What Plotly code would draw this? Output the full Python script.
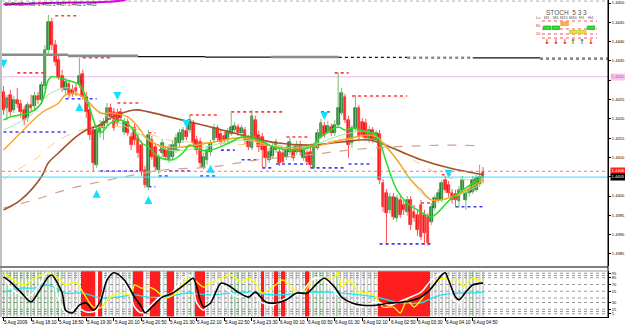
import plotly.graph_objects as go

W, H = 625, 327

# ---------------- price data (EURUSD, M5) ----------------
opens = [
    1.44270, 1.44228, 1.44262, 1.44223, 1.44249, 1.44239, 1.44223, 1.44202, 1.44236, 1.44233,
    1.44259, 1.44249, 1.44285, 1.44378, 1.44451, 1.44391, 1.44353, 1.44311, 1.44275, 1.44290,
    1.44275, 1.44280, 1.44290, 1.44316, 1.44257, 1.44223, 1.44171, 1.44081, 1.44166, 1.44176,
    1.44189, 1.44228, 1.44218, 1.44215, 1.44218, 1.44166, 1.44192, 1.44153, 1.44176, 1.44151,
    1.44132, 1.44068, 1.44024, 1.44145, 1.44127, 1.44068, 1.44112, 1.44119, 1.44094, 1.44101,
    1.44119, 1.44138, 1.44145, 1.44169, 1.44171, 1.44189, 1.44145, 1.44140, 1.44075, 1.44094,
    1.44114, 1.44145, 1.44176, 1.44161, 1.44156, 1.44145, 1.44161, 1.44171, 1.44179, 1.44164,
    1.44171, 1.44151, 1.44125, 1.44197, 1.44158, 1.44153, 1.44130, 1.44094, 1.44104, 1.44119,
    1.44114, 1.44112, 1.44101, 1.44114, 1.44119, 1.44114, 1.44132, 1.44099, 1.44112, 1.44114,
    1.44073, 1.44125, 1.44153, 1.44182, 1.44166, 1.44179, 1.44164, 1.44184, 1.44215, 1.44257,
    1.44197, 1.44138, 1.44176, 1.44228, 1.44192, 1.44189, 1.44145, 1.44171, 1.44145, 1.44161,
    1.44034, 1.44008, 1.43964, 1.43998, 1.43943, 1.43990, 1.43977, 1.43959, 1.43990, 1.43959,
    1.43951, 1.43977, 1.43951, 1.43946, 1.43933, 1.43969, 1.43990, 1.43990, 1.44042, 1.44029,
    1.44008, 1.44006, 1.43987, 1.44016, 1.43990, 1.44008, 1.44011, 1.44016, 1.44031, 1.44063,
]
closes = [
    1.44223, 1.44254, 1.44218, 1.44249, 1.44239, 1.44218, 1.44197, 1.44236, 1.44228, 1.44259,
    1.44249, 1.44288, 1.44378, 1.44451, 1.44391, 1.44347, 1.44309, 1.44280, 1.44296, 1.44262,
    1.44267, 1.44270, 1.44311, 1.44257, 1.44218, 1.44158, 1.44086, 1.44171, 1.44184, 1.44192,
    1.44228, 1.44205, 1.44176, 1.44189, 1.44202, 1.44192, 1.44164, 1.44132, 1.44145, 1.44112,
    1.44063, 1.44029, 1.44158, 1.44101, 1.44075, 1.44101, 1.44138, 1.44101, 1.44125, 1.44132,
    1.44151, 1.44164, 1.44171, 1.44153, 1.44197, 1.44138, 1.44119, 1.44086, 1.44101, 1.44119,
    1.44138, 1.44176, 1.44151, 1.44140, 1.44145, 1.44169, 1.44179, 1.44182, 1.44164, 1.44176,
    1.44145, 1.44127, 1.44208, 1.44153, 1.44127, 1.44119, 1.44099, 1.44114, 1.44127, 1.44140,
    1.44086, 1.44088, 1.44119, 1.44140, 1.44099, 1.44132, 1.44114, 1.44119, 1.44088, 1.44081,
    1.44127, 1.44164, 1.44189, 1.44158, 1.44182, 1.44164, 1.44184, 1.44228, 1.44267, 1.44197,
    1.44132, 1.44176, 1.44228, 1.44153, 1.44158, 1.44151, 1.44171, 1.44145, 1.44164, 1.44042,
    1.43972, 1.43956, 1.43998, 1.43946, 1.43995, 1.43951, 1.43964, 1.43990, 1.43925, 1.43943,
    1.43912, 1.43894, 1.43905, 1.43879, 1.43972, 1.43995, 1.44008, 1.44034, 1.44016, 1.44008,
    1.43990, 1.43990, 1.44016, 1.44042, 1.44008, 1.44016, 1.44042, 1.44047, 1.44050, 1.44050,
]
highs = [
    1.44285, 1.44262, 1.44275, 1.44259, 1.44280, 1.44249, 1.44233, 1.44244, 1.44262, 1.44270,
    1.44270, 1.44296, 1.44391, 1.44469, 1.44461, 1.44404, 1.44363, 1.44327, 1.44306, 1.44301,
    1.44288, 1.44290, 1.44358, 1.44327, 1.44270, 1.44233, 1.44182, 1.44184, 1.44197, 1.44202,
    1.44241, 1.44239, 1.44228, 1.44226, 1.44228, 1.44202, 1.44200, 1.44164, 1.44187, 1.44161,
    1.44143, 1.44078, 1.44171, 1.44156, 1.44138, 1.44109, 1.44148, 1.44130, 1.44135, 1.44143,
    1.44161, 1.44174, 1.44179, 1.44179, 1.44210, 1.44197, 1.44156, 1.44151, 1.44112, 1.44130,
    1.44145, 1.44187, 1.44184, 1.44171, 1.44166, 1.44176, 1.44218, 1.44192, 1.44187, 1.44184,
    1.44179, 1.44158, 1.44223, 1.44208, 1.44169, 1.44164, 1.44140, 1.44125, 1.44138, 1.44148,
    1.44125, 1.44119, 1.44130, 1.44151, 1.44130, 1.44143, 1.44143, 1.44130, 1.44119, 1.44125,
    1.44138, 1.44174, 1.44200, 1.44192, 1.44195, 1.44187, 1.44197, 1.44319, 1.44280, 1.44265,
    1.44208, 1.44184, 1.44262, 1.44236, 1.44202, 1.44200, 1.44182, 1.44179, 1.44171, 1.44171,
    1.44044, 1.44018, 1.44008, 1.44008, 1.44003, 1.44000, 1.43990, 1.44000, 1.44000, 1.43977,
    1.43964, 1.43990, 1.43964, 1.43956, 1.43982, 1.44003, 1.44018, 1.44042, 1.44052, 1.44039,
    1.44018, 1.44016, 1.44026, 1.44052, 1.44016, 1.44026, 1.44052, 1.44055, 1.44081, 1.44075,
]
lows = [
    1.44210, 1.44197, 1.44208, 1.44215, 1.44228, 1.44202, 1.44184, 1.44192, 1.44218, 1.44223,
    1.44239, 1.44239, 1.44275, 1.44366, 1.44378, 1.44337, 1.44301, 1.44270, 1.44262, 1.44254,
    1.44257, 1.44259, 1.44280, 1.44249, 1.44202, 1.44145, 1.44063, 1.44073, 1.44151, 1.44145,
    1.44182, 1.44197, 1.44169, 1.44182, 1.44195, 1.44158, 1.44156, 1.44119, 1.44132, 1.44099,
    1.44052, 1.44021, 1.44016, 1.44094, 1.44063, 1.44057, 1.44101, 1.44094, 1.44086, 1.44094,
    1.44112, 1.44127, 1.44138, 1.44145, 1.44164, 1.44127, 1.44107, 1.44073, 1.44068, 1.44081,
    1.44104, 1.44138, 1.44143, 1.44132, 1.44135, 1.44138, 1.44156, 1.44164, 1.44156, 1.44156,
    1.44132, 1.44119, 1.44119, 1.44145, 1.44114, 1.44075, 1.44075, 1.44086, 1.44096, 1.44112,
    1.44078, 1.44081, 1.44094, 1.44107, 1.44091, 1.44107, 1.44104, 1.44091, 1.44081, 1.44073,
    1.44068, 1.44119, 1.44148, 1.44151, 1.44161, 1.44156, 1.44156, 1.44176, 1.44210, 1.44189,
    1.44099, 1.44125, 1.44169, 1.44145, 1.44151, 1.44143, 1.44138, 1.44138, 1.44138, 1.44031,
    1.43959, 1.43879, 1.43954, 1.43938, 1.43933, 1.43943, 1.43951, 1.43949, 1.43912, 1.43933,
    1.43897, 1.43886, 1.43873, 1.43871, 1.43925, 1.43962, 1.43982, 1.43985, 1.44008, 1.43998,
    1.43980, 1.43972, 1.43969, 1.44008, 1.43964, 1.43998, 1.44006, 1.44011, 1.44024, 1.44034,
]
n = len(closes)
bars = list(range(n))

time_label_bars = [0, 8, 16, 24, 32, 40, 48, 56, 64, 72, 80, 88, 96, 104, 112, 120, 128, 136]
time_labels = ["5 Aug 2009", "5 Aug 18:10", "5 Aug 18:50", "5 Aug 19:30", "5 Aug 20:10",
               "5 Aug 20:50", "5 Aug 21:30", "5 Aug 22:10", "5 Aug 22:50", "5 Aug 23:30",
               "6 Aug 00:10", "6 Aug 00:50", "6 Aug 01:30", "6 Aug 02:10", "6 Aug 02:50",
               "6 Aug 03:30", "6 Aug 04:10", "6 Aug 04:50"]
price_ticks = [1.4450, 1.4445, 1.4440, 1.4435, 1.4430, 1.4425, 1.4420,
               1.4415, 1.4410, 1.4405, 1.4400, 1.4395, 1.4390, 1.4385]

# moving averages (sampled along the bars)
ma_fast_bars = [0, 2, 8, 11, 13, 14, 18, 22, 24, 28, 31, 34, 37, 40, 42, 45, 49, 52, 54, 57,
                60, 66, 69, 74, 79, 84, 89, 92, 97, 99, 101, 105, 108, 111, 114, 117, 121, 124, 130, 139]
ma_fast = [1.44197, 1.44205, 1.44218, 1.44241, 1.44301, 1.44309, 1.44301, 1.44288, 1.44254, 1.44164,
           1.44189, 1.44197, 1.44179, 1.44138, 1.44127, 1.44101, 1.44094, 1.44112, 1.44132, 1.44119,
           1.44119, 1.44140, 1.44153, 1.44145, 1.44125, 1.44119, 1.44127, 1.44153, 1.44179, 1.44171,
           1.44176, 1.44166, 1.44158, 1.44086, 1.44016, 1.43982, 1.43959, 1.43946, 1.43995, 1.44050]
ma_lg_bars = [0, 8, 13, 19, 25, 31, 40, 48, 57, 69, 80, 89, 98, 106, 112, 118, 124, 132, 139]
ma_lg = [1.44171, 1.44210, 1.44262, 1.44280, 1.44236, 1.44202, 1.44158, 1.44119, 1.44125, 1.44145,
         1.44127, 1.44130, 1.44158, 1.44166, 1.44119, 1.44042, 1.43990, 1.44003, 1.44034]
ma_orange_bars = [0, 5, 11, 16, 18, 22, 25, 28, 31, 36, 39, 42, 47, 52, 60, 69, 79, 89, 98, 106,
                  108, 114, 118, 121, 124, 130, 139]
ma_orange = [1.44119, 1.44164, 1.44215, 1.44241, 1.44262, 1.44262, 1.44241, 1.44215, 1.44215, 1.44205,
             1.44179, 1.44145, 1.44127, 1.44127, 1.44138, 1.44151, 1.44127, 1.44127, 1.44145, 1.44158,
             1.44153, 1.44094, 1.44042, 1.44016, 1.43990, 1.43998, 1.44042]
ma_lo_bars = [0, 4, 9, 16, 25, 37, 48, 60, 74, 86, 98, 108, 115, 121, 129, 139]
ma_lo = [1.44042, 1.44068, 1.44094, 1.44145, 1.44176, 1.44176, 1.44145, 1.44138, 1.44132, 1.44132,
         1.44145, 1.44145, 1.44114, 1.44081, 1.44047, 1.44042]
ma_brown_bars = [0, 5, 11, 13, 16, 21, 24, 28, 31, 38, 42, 48, 54, 60, 69, 79, 89, 98, 106, 112,
                 121, 129, 139]
ma_brown = [1.43964, 1.43990, 1.44050, 1.44086, 1.44112, 1.44153, 1.44171, 1.44184, 1.44202, 1.44223,
            1.44218, 1.44205, 1.44192, 1.44179, 1.44158, 1.44138, 1.44132, 1.44140, 1.44145, 1.44127,
            1.44094, 1.44073, 1.44055]
ma_bd_bars = [0, 9, 18, 28, 38, 47, 60, 74, 89, 100, 112, 121, 129, 138]
ma_bd = [1.43969, 1.43990, 1.44016, 1.44037, 1.44055, 1.44068, 1.44075, 1.44094, 1.44107, 1.44119,
         1.44127, 1.44130, 1.44132, 1.44130]
ma_mag_bars = [0, 6, 12, 20, 30, 35, 40]
ma_mag = [1.44497, 1.44498, 1.44500, 1.44501, 1.44503, 1.44508, 1.44525]

# pivot levels (hourly steps)
piv_start = [-1.0, 18.7, 39.0, 58.4, 77.5, 97.2, 117.0, 136.0, 155.5]
piv_end = [18.7, 39.0, 58.4, 77.5, 97.2, 117.0, 136.0, 155.5, 175.2]
piv_level = [1.44366, 1.44363, 1.44361, 1.44360, 1.44360, 1.44359, 1.44358, 1.44358, 1.44356]

pink_level = 1.44309
ask_price = 1.44064
bid_price = 1.44049
top_level = 1.44505

res_start = [15, 4, 23, 33, 42, 45, 54, 66, 82, 92, 96, 101, 121, 127]
res_end = [22, 12, 31, 40, 44, 51, 62, 81, 89, 95, 100, 117, 126, 130]
res_level = [1.44467, 1.44319, 1.44358, 1.44241, 1.44164, 1.44119, 1.44210, 1.44218, 1.44153,
             1.44218, 1.44319, 1.44259, 1.43982, 1.44055]
sup_start = [0, 18, 28, 42, 45, 48, 57, 63, 69, 75, 79, 89, 100, 109, 131]
sup_end = [18, 27, 39, 44, 48, 55, 62, 67, 74, 78, 88, 99, 107, 124, 139]
sup_level = [1.44166, 1.44252, 1.44065, 1.44024, 1.44052, 1.44065, 1.44052, 1.44119, 1.44094,
             1.44073, 1.44083, 1.44073, 1.44083, 1.43876, 1.43972]

arrow_dn_bars = [0, 33, 53, 93, 129]
arrow_dn_price = [1.44332, 1.44249, 1.44176, 1.44197, 1.44047]
arrow_up_bars = [22, 27, 42, 60]
arrow_up_price = [1.44241, 1.44016, 1.44000, 1.44081]

# lower pane oscillator
osc_state = ("GGGGGGGGGGGGGGGGGG" "SSSSS" "RRRR" "S" "R" "SSSSSSSSS" "RRR" "SS" "RRR" "SS" "RR"
             "SSSS" "G" "S" "RRR" "SSSSSSS" "GGGG" "S" "G" "SSS" "R" "SSS" "R" "S" "R" "SSSSSS"
             "R" "S" "GGGG" "SSS" "G" "SS" "G" "SSSSSSSS" "RRRRRRRRRRRRRRR" "SSSSSSSSSSS" "GG" "SSS")
blk_bars = [0, 2, 5, 8, 10, 13, 14, 17, 18, 20, 22, 24, 26, 28, 30, 32, 35, 38, 40, 41, 43, 46, 49,
            53, 55, 57, 58, 60, 63, 65, 68, 71, 73, 76, 79, 82, 85, 88, 91, 93, 96, 98, 101, 104,
            108, 112, 116, 121, 124, 127, 128, 129, 131, 132, 134, 136, 139]
blk_val = [87, 76, 53, 31, 51, 87, 91, 51, 13, 7, 24, 29, 13, 31, 80, 96, 80, 42, 20, 7, 20, 42, 51,
           73, 84, 36, 20, 29, 73, 69, 53, 42, 53, 31, 29, 36, 51, 51, 73, 84, 64, 42, 29, 24,
           24, 29, 31, 42, 62, 91, 96, 80, 42, 36, 53, 69, 73]
wht_bars = [0, 2, 4, 7, 10, 13, 14, 16, 18, 21, 24, 27, 30, 32, 36, 38, 40, 42, 45, 49, 52, 54, 56,
            58, 60, 62, 64, 68, 72, 75, 78, 82, 86, 90, 93, 96, 100, 103, 108, 112, 116, 121, 124,
            127, 129, 130, 132, 134, 137, 139]
wht_val = [91, 64, 51, 42, 64, 100, 91, 36, 7, 20, 9, 13, 87, 98, 62, 20, 7, 18, 40, 53, 84, 91, 29,
           13, 36, 80, 64, 42, 51, 29, 24, 40, 51, 84, 80, 53, 31, 20, 31, 24, 36, 53, 80,
           96, 87, 42, 29, 51, 73, 69]
yel_bars = [0, 3, 6, 9, 13, 16, 18, 21, 23, 26, 28, 31, 34, 37, 38, 40, 42, 44, 47, 50, 54, 56, 58,
            60, 63, 66, 69, 71, 73, 75, 78, 81, 84, 87, 90, 93, 96, 97, 98, 100, 103, 106, 108,
            110, 113, 115, 117, 119, 121, 124, 127, 129, 132, 133, 136, 139]
yel_val = [96, 80, 69, 84, 96, 84, 69, 76, 53, 20, 18, 42, 51, 47, 69, 62, 64, 58, 40, 51, 87, 76, 64,
           73, 84, 91, 76, 84, 73, 51, 64, 80, 58, 51, 84, 84, 87, 98, 64, 80, 53, 51, 42,
           20, 20, 7, 36, 20, 36, 64, 84, 80, 80, 64, 84, 73]
cyn_bars = [0, 5, 9, 13, 18, 23, 28, 33, 38, 42, 47, 53, 60, 69, 79, 89, 94, 98, 108, 114, 121,
            123, 127, 132, 136, 139]
cyn_val = [53, 62, 62, 69, 51, 51, 40, 42, 47, 42, 42, 51, 47, 53, 47, 53, 53, 51, 42, 31, 29,
           36, 47, 51, 51, 53]
osc_levels = [95, 90, 85, 70, 55, 40, 30, 15, 10, 5]
osc_ticks = [95, 85, 70, 55, 30, 15, 5]

# multi-timeframe stochastic panel
stoch_tfs = ["M1", "M5", "M15", "M30", "H1", "H4"]
stoch_zone = ["mid", "mid", "high", "low", "low", "mid"]
stoch_dir = ["down", "down", "down", "up", "up", "down"]

# ---------------- figure ----------------
FONT = "Liberation Sans, Arial, sans-serif"
XR = [-0.43, 175.2]
XD = [2 / W, 608 / W]


def py(p):
    return 1 - p / H


def px(p):
    return p / W


fig = go.Figure()

# pivot step line
for k, (a, b, lv) in enumerate(zip(piv_start, piv_end, piv_level)):
    dark = k in (2, 3, 5, 7)
    fig.add_trace(go.Scatter(x=[a, b], y=[lv, lv], mode="lines", xaxis="x", yaxis="y",
                             line=dict(color="#111111" if dark else "#8a8a8a",
                                       width=1.3 if dark else 2.6,
                                       dash="dot" if k in (5, 6, 8) else "solid"),
                             hoverinfo="skip"))

# magenta long MA leaving the top of the chart
fig.add_trace(go.Scatter(x=ma_mag_bars, y=ma_mag, mode="lines", xaxis="x", yaxis="y",
                         line=dict(color="#e000e0", width=2, shape="spline"), hoverinfo="skip"))


def seg_xy(starts, ends, levels):
    xs, ys = [], []
    for a, b, lv in zip(starts, ends, levels):
        xs += [a, b, None]
        ys += [lv, lv, None]
    return xs, ys


rx, ry = seg_xy(res_start, res_end, res_level)
fig.add_trace(go.Scatter(x=rx, y=ry, mode="lines", xaxis="x", yaxis="y",
                         line=dict(color="#ff3b3b", width=1.6, dash="dot"), hoverinfo="skip"))
sx, sy = seg_xy(sup_start, sup_end, sup_level)
fig.add_trace(go.Scatter(x=sx, y=sy, mode="lines", xaxis="x", yaxis="y",
                         line=dict(color="#3b3bff", width=1.6, dash="dot"), hoverinfo="skip"))

# candle wicks
bull = [c >= o for o, c in zip(opens, closes)]
for want, col in ((True, "#6fbf6f"), (False, "#ff5050")):
    wx, wy = [], []
    for i in bars:
        if bull[i] == want:
            wx += [i, i, None]
            wy += [lows[i], highs[i], None]
    fig.add_trace(go.Scatter(x=wx, y=wy, mode="lines", xaxis="x", yaxis="y",
                             line=dict(color=col, width=1), hoverinfo="skip"))

# candle bodies
body_base = [min(o, c) for o, c in zip(opens, closes)]
body_len = [max(abs(c - o), 0.000025) for o, c in zip(opens, closes)]
fig.add_trace(go.Bar(x=bars, y=body_len, base=body_base, width=0.8, xaxis="x", yaxis="y",
                     marker=dict(color=["#2c8f3c" if b else "#ff1414" for b in bull],
                                 line=dict(color=["#0d5a1c" if b else "#ff1414" for b in bull],
                                           width=0.6)),
                     hoverinfo="skip"))

# moving averages
for xs, ys, col, wd, dash in (
        (ma_bd_bars, ma_bd, "#d4a088", 1.2, "dash"),
        (ma_lo_bars, ma_lo, "#ffc880", 1.0, "dash"),
        (ma_brown_bars, ma_brown, "#a0522d", 1.6, "solid"),
        (ma_lg_bars, ma_lg, "#9ee89e", 1.0, "solid"),
        (ma_orange_bars, ma_orange, "#ffa01e", 1.4, "solid"),
        (ma_fast_bars, ma_fast, "#22e022", 1.5, "solid")):
    fig.add_trace(go.Scatter(x=xs, y=ys, mode="lines", xaxis="x", yaxis="y",
                             line=dict(color=col, width=wd, dash=dash, shape="spline", smoothing=1.0),
                             hoverinfo="skip"))

# signal arrows
fig.add_trace(go.Scatter(x=arrow_dn_bars, y=arrow_dn_price, mode="markers", xaxis="x", yaxis="y",
                         marker=dict(symbol="arrow-down", size=8, color="#10e0ff",
                                     line=dict(width=0)), hoverinfo="skip"))
fig.add_trace(go.Scatter(x=arrow_up_bars, y=arrow_up_price, mode="markers", xaxis="x", yaxis="y",
                         marker=dict(symbol="arrow-up", size=8, color="#10e0ff",
                                     line=dict(width=0)), hoverinfo="skip"))

# ---------------- lower pane ----------------
fill = {"G": "#2e7d2e", "S": "#8a8a8a", "R": "#ff1e1e"}
fg = {"G": "#5aa85a", "S": "#a9a9a9", "R": "#ff1e1e"}
shp = {"G": "|", "S": "|", "R": ""}
fig.add_trace(go.Bar(x=bars, y=[101.1] * n, base=-1.1, width=1.0, xaxis="x2", yaxis="y2",
                     marker=dict(color=[fill[s] for s in osc_state], line=dict(width=0),
                                 pattern=dict(shape=[shp[s] for s in osc_state],
                                              fgcolor=[fg[s] for s in osc_state],
                                              bgcolor=[fill[s] for s in osc_state],
                                              size=3.4, solidity=0.2)),
                     hoverinfo="skip"))
for xs, ys, col, wd in ((cyn_bars, cyn_val, "#19e6f0", 1.3),
                        (yel_bars, yel_val, "#ffff00", 1.3),
                        (wht_bars, wht_val, "#ffffff", 1.5),
                        (blk_bars, blk_val, "#000000", 1.6)):
    fig.add_trace(go.Scatter(x=xs, y=ys, mode="lines", xaxis="x2", yaxis="y2",
                             line=dict(color=col, width=wd, shape="spline", smoothing=0.8),
                             hoverinfo="skip"))

# ---------------- shapes ----------------
shapes = []
shapes.append(dict(type="line", xref="x domain", x0=0, x1=1, yref="y", y0=top_level, y1=top_level,
                   line=dict(color="#b0b0b0", width=1, dash="dot"), layer="below"))
shapes.append(dict(type="line", xref="x domain", x0=0, x1=1, yref="y", y0=pink_level, y1=pink_level,
                   line=dict(color="#f0b8e8", width=1), layer="below"))
shapes.append(dict(type="line", xref="x domain", x0=0, x1=1, yref="y", y0=ask_price, y1=ask_price,
                   line=dict(color="#ff7070", width=1, dash="dot"), layer="above"))
shapes.append(dict(type="line", xref="x domain", x0=0, x1=1, yref="y", y0=bid_price, y1=bid_price,
                   line=dict(color="#30e0ff", width=1), layer="above"))
for lv in osc_levels:
    shapes.append(dict(type="line", xref="x2 domain", x0=0, x1=1, yref="y2", y0=lv, y1=lv,
                       line=dict(color="#9a9a9a", width=1, dash="dot"), layer="below"))
shapes.append(dict(type="line", xref="paper", yref="paper", x0=0, x1=px(608), y0=py(267), y1=py(267),
                   line=dict(color="#000000", width=1)))
shapes.append(dict(type="line", xref="paper", yref="paper", x0=px(608), x1=px(608), y0=py(0), y1=py(318),
                   line=dict(color="#000000", width=1)))
shapes.append(dict(type="line", xref="paper", yref="paper", x0=px(1), x1=px(1), y0=py(0), y1=py(317),
                   line=dict(color="#808080", width=1)))
shapes.append(dict(type="line", xref="paper", yref="paper", x0=px(0), x1=px(608), y0=py(271), y1=py(271),
                   line=dict(color="#9a9a9a", width=1)))

col_x = [547 + 8.8 * k for k in range(len(stoch_tfs))]
for yy in (21, 29, 34, 38):
    shapes.append(dict(type="line", xref="paper", yref="paper", x0=px(542), x1=px(597),
                       y0=py(yy), y1=py(yy), line=dict(color="#ff5050", width=1, dash="dot")))
zone_y = {"high": (22, 25.5), "mid": (26, 29.5), "low": (30.5, 33.5)}
zone_c = {"high": ("#ffb04a", "#e08a20"), "mid": ("#33dd33", "#119911"), "low": ("#e6e62a", "#b8b800")}
for cx, z in zip(col_x, stoch_zone):
    y0, y1 = zone_y[z]
    shapes.append(dict(type="rect", xref="paper", yref="paper", x0=px(cx - 3.8), x1=px(cx + 3.8),
                       y0=py(y1), y1=py(y0), fillcolor=zone_c[z][0],
                       line=dict(color=zone_c[z][1], width=0.6)))

# ---------------- annotations ----------------
ann = []
for b, t in zip(time_label_bars, time_labels):
    ann.append(dict(x=b - 0.4, y=py(322), xref="x", yref="paper", text=t, showarrow=False,
                    xanchor="left", yanchor="middle", font=dict(size=4.6, color="#000000", family=FONT)))
ann.append(dict(x=px(3), y=py(4.5), xref="paper", yref="paper", showarrow=False,
                text="EURUSDm,M5  1.4405 1.4407 1.4402 1.4405", xanchor="left", yanchor="middle",
                font=dict(size=4.5, color="#333333", family=FONT)))
for lv, bg, fc in ((pink_level, "#f4c6ee", "#b050a8"),
                   (ask_price, "#ff2020", "#ffffff"),
                   (bid_price, "#000000", "#ffffff")):
    ann.append(dict(x=px(610), y=lv, xref="paper", yref="y", text=f"{lv:.4f}", showarrow=False,
                    xanchor="left", yanchor="middle", bgcolor=bg, borderpad=0.4,
                    font=dict(size=4.2, color=fc, family=FONT)))
ann.append(dict(x=px(566), y=py(12), xref="paper", yref="paper", text="STOCH  5 3 3", showarrow=False,
                xanchor="center", yanchor="middle",
                font=dict(size=6.5, color="#555555", family=FONT)))
ann.append(dict(x=px(538), y=py(17.5), xref="paper", yref="paper", text="Ls", showarrow=False,
                xanchor="center", yanchor="middle",
                font=dict(size=4, color="#555555", family=FONT)))
ann.append(dict(x=px(538), y=py(25), xref="paper", yref="paper", text="80", showarrow=False,
                xanchor="center", yanchor="middle",
                font=dict(size=4, color="#dd3030", family=FONT)))
ann.append(dict(x=px(538), y=py(33), xref="paper", yref="paper", text="20", showarrow=False,
                xanchor="center", yanchor="middle",
                font=dict(size=4, color="#dd3030", family=FONT)))
for cx, tf, d in zip(col_x, stoch_tfs, stoch_dir):
    ann.append(dict(x=px(cx), y=py(17.5), xref="paper", yref="paper", text=tf, showarrow=False,
                    xanchor="center", yanchor="middle",
                    font=dict(size=4, color="#555555", family=FONT)))
    ann.append(dict(x=px(cx), y=py(42.5), xref="paper", yref="paper",
                    text="<b>↓</b>" if d == "down" else "<b>↑</b>", showarrow=False,
                    xanchor="center", yanchor="middle",
                    font=dict(size=7, color="#ee1111" if d == "down" else "#118811",
                              family="DejaVu Sans")))

# tick labels hidden where the level labels sit on top of them
covered = {1.4430, 1.4405}
tick_text = ["" if round(v, 4) in covered else f"{v:.4f}" for v in price_ticks]

fig.update_layout(
    width=W, height=H, margin=dict(l=0, r=0, t=0, b=0), template="none",
    paper_bgcolor="white", plot_bgcolor="white", showlegend=False, hovermode=False,
    barmode="overlay", bargap=0, font=dict(family=FONT, size=5),
    xaxis=dict(domain=XD, range=XR, anchor="y", showticklabels=False, showgrid=False,
               zeroline=False, showline=False, ticks="", fixedrange=True),
    yaxis=dict(domain=[1 - 266 / H, 1.0], range=[1.438187, 1.445078], anchor="x", side="right",
               tickvals=price_ticks, ticktext=tick_text,
               ticks="outside", ticklen=2, tickwidth=1, tickcolor="#000000",
               tickfont=dict(size=4.1, color="#000000", family=FONT),
               showgrid=False, zeroline=False, showline=True, linecolor="#000000", linewidth=1,
               automargin=False, fixedrange=True),
    xaxis2=dict(domain=XD, range=XR, anchor="y2", matches="x", showticklabels=False, showgrid=False,
                zeroline=False, showline=True, linecolor="#000000", linewidth=1,
                tickvals=time_label_bars, ticks="outside", ticklen=3, tickcolor="#000000",
                fixedrange=True),
    yaxis2=dict(domain=[1 - 316.5 / H, 1 - 271 / H], range=[-1.1, 100], anchor="x2", side="right",
                tickvals=osc_ticks, ticktext=[str(v) for v in osc_ticks],
                ticks="outside", ticklen=2, tickcolor="#000000",
                tickfont=dict(size=4, color="#000000", family=FONT),
                showgrid=False, zeroline=False, showline=True, linecolor="#000000", linewidth=1,
                automargin=False, fixedrange=True),
    shapes=shapes, annotations=ann,
)

fig.write_html("out.html")
